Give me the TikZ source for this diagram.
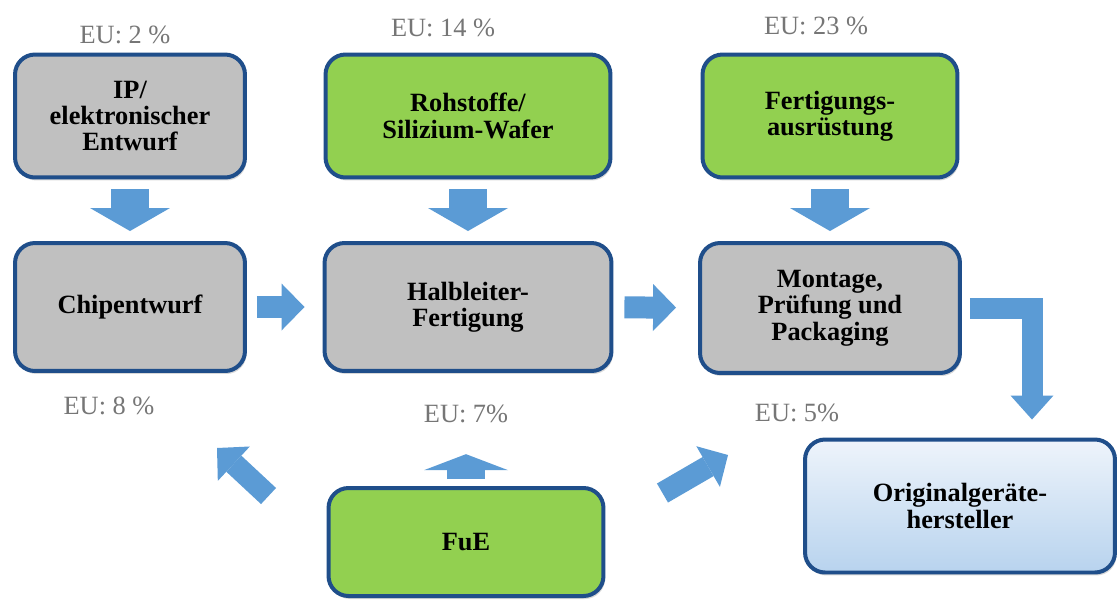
\documentclass[tikz,border=0pt]{standalone}
\usepackage{fontspec}
\setmainfont{Liberation Serif}
\usetikzlibrary{arrows.meta}
\usetikzlibrary{shadows}

\definecolor{boxline}{RGB}{31,78,138}
\definecolor{boxgrey}{RGB}{192,192,192}
\definecolor{boxgreen}{RGB}{146,208,80}
\definecolor{arrowblue}{RGB}{91,155,213}
\definecolor{sharegrey}{RGB}{118,118,118}
\definecolor{oemtop}{RGB}{238,244,251}
\definecolor{oembottom}{RGB}{184,211,238}

\begin{document}
\begin{tikzpicture}[x=0.02cm,y=-0.02cm,
    stage/.style={draw=boxline,line width=0.08cm,rounded corners=0.4cm,align=center,
      font=\fontsize{15}{15}\selectfont\bfseries,
      drop shadow={shadow xshift=0.03cm,shadow yshift=-0.06cm,opacity=0.3}},
    greystage/.style={stage,fill=boxgrey},
    greenstage/.style={stage,fill=boxgreen},
    share/.style={text=sharegrey,font=\fontsize{15}{15}\selectfont},
    arrowwide/.style={draw=arrowblue,line width=0.76cm,shorten <=0.2cm,shorten >=0.2cm,
      -{Triangle[width=1.6cm,length=0.46cm,line width=0pt]}},
    arrowslim/.style={draw=arrowblue,line width=0.44cm,
      -{Triangle[width=0.94cm,length=0.46cm,line width=0pt]}}]
    \fill[white] (0,0) rectangle (1118,599);
    \useasboundingbox (0,0) rectangle (1118,599);
    % top row
    \node[greystage,minimum width=4.6cm,minimum height=2.46cm] (ip) at (130,116) {IP/\\elektronischer\\Entwurf};
    \node[greenstage,minimum width=5.7cm,minimum height=2.46cm] (raw) at (468,116) {Rohstoffe/\\Silizium-Wafer};
    \node[greenstage,minimum width=5.1cm,minimum height=2.46cm] (tools) at (830,116) {Fertigungs-\\ausrüstung};
    \node[share] (ipshare) at (125,35) {EU: 2 \%};
    \node[share] (rawshare) at (443,28) {EU: 14 \%};
    \node[share] (toolshare) at (816,26) {EU: 23 \%};
    % middle row
    \node[greystage,minimum width=4.6cm,minimum height=2.56cm] (chip) at (130,307) {Chipentwurf};
    \node[greystage,minimum width=5.74cm,minimum height=2.56cm] (fab) at (468,307) {Halbleiter-\\Fertigung};
    \node[greystage,minimum width=5.2cm,minimum height=2.6cm] (atp) at (830,308) {Montage,\\Prüfung und\\Packaging};
    \node[share] (chipshare) at (109,406) {EU: 8 \%};
    \node[share] (rdshare) at (466,414) {EU: 7\%};
    \node[share] (atpshare) at (797,413) {EU: 5\%};
    % bottom row
    \node[greenstage,minimum width=5.5cm,minimum height=2.16cm] (rd) at (466,542) {FuE};
    \node[stage,top color=oemtop,bottom color=oembottom,minimum width=6.2cm,minimum height=2.66cm] (oem) at (960,506) {Originalgeräte-\\hersteller};
    \coordinate (tochip) at (217,448);
    \coordinate (toatp) at (728,455);
    % arrows
    \draw[arrowwide] (ip) to (chip);
    \draw[arrowwide] (raw) to (fab);
    \draw[arrowwide] (tools) to (atp);
    \draw[arrowslim,shorten <=0.2cm,shorten >=0.36cm] (chip) to (fab);
    \draw[arrowslim,shorten <=0.22cm,shorten >=0.44cm] (fab) to (atp);
    \draw[arrowslim,line width=0.42cm,shorten >=0.36cm,-{Triangle[width=0.86cm,length=0.48cm,line width=0pt]}]
      ([xshift=0.16cm]atp.east) -| ([xshift=1.44cm]oem.north);
    \draw[draw=arrowblue,line width=0.76cm,shorten <=0.14cm,shorten >=0.5cm,
      -{Triangle[width=1.68cm,length=0.32cm,line width=0pt]}] (rd.north) to (rd.north |- rdshare.south);
    \draw[arrowslim] ([shift={(-58,10)}]rd.north west) to (tochip);
    \draw[arrowslim] ([shift={(57,7)}]rd.north east) to (toatp);
\end{tikzpicture}
\end{document}
